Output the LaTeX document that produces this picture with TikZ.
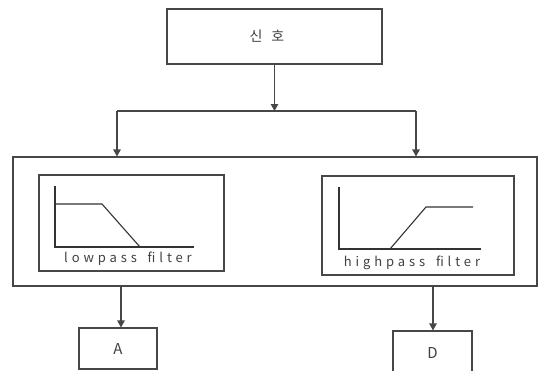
\documentclass[tikz,border=0pt]{standalone}
\usepackage{fontspec}
\setmainfont{Noto Sans CJK KR}
\newfontfamily\spaced[LetterSpace=30]{Noto Sans CJK KR}
\usetikzlibrary{arrows.meta,calc,positioning}

\tikzset{
    line/.style={draw=black!72, line width=1.1pt},
    block/.style={line, rectangle, inner sep=0pt, text=black!75},
    link/.style={line, -{Triangle[width=7.5pt,length=7pt]}},
    curve/.style={draw=black!80, line width=1.1pt},
    caption/.style={text=black!75, font=\fontsize{13}{13}\selectfont},
}

\begin{document}
\begin{tikzpicture}[x=1pt,y=-1pt]
    \useasboundingbox (0,0) rectangle (538,370);
    \clip (0,0) rectangle (538,370);
    %blocks
    \node [block, minimum width=215pt, minimum height=55pt] (signal) at (274.5,36.5) {};
    \node [text=black!75, font=\fontsize{14}{14}\selectfont] (signaltext) at (267,36.5) {신\hspace{9pt}호};
    \node [block, minimum width=524pt, minimum height=129pt] (filters) at (275,221.5) {};
    \node [block, minimum width=185pt, minimum height=96pt] (lowpass) at (131.5,223) {};
    \node [block, minimum width=192pt, minimum height=99pt] (highpass) at (418,225.5) {};
    \node [block, minimum width=78pt, minimum height=41pt, font=\fontsize{15}{15}\selectfont] (outa) at (118,348.5) {A};
    \node [block, minimum width=79pt, minimum height=44pt, font=\fontsize{15}{15}\selectfont] (outd) at (432.5,353) {D};
    %split
    \coordinate (split) at (signal.south |- 0,111);
    \coordinate (splitl) at (117,111);
    \coordinate (splitr) at (416,111);
    \draw [link] (signal.south) -- (split);
    \draw [line] (splitl) -- (splitr);
    \draw [link] (splitl) -- (splitl |- filters.north);
    \draw [link] (splitr) -- (splitr |- filters.north);
    %outputs
    \draw [link] (121,0 |- filters.south) -- (121,0 |- outa.north);
    \draw [link] (433,0 |- filters.south) -- (433,0 |- outd.north);
    %lowpass curve
    \draw [curve] (55,186) -- (55,247) -- (194,247);
    \draw [curve] (55,204) -- (102,204) -- (140,247);
    \node [caption] (lowlabel) at (128,259) {\spaced lowpass\hspace{4pt} filter};
    %highpass curve
    \draw [curve] (339,187) -- (339,249) -- (481,249);
    \draw [curve] (339,249) -- (390,249) -- (426,207) -- (473,207);
    \node [caption] (highlabel) at (412,263) {\spaced highpass\hspace{4pt} filter};
\end{tikzpicture}
\end{document}
